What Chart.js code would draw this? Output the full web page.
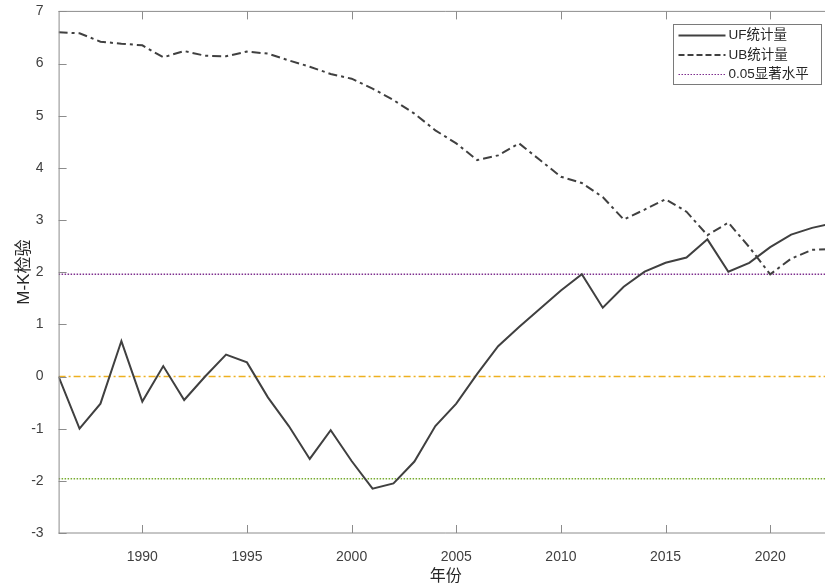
<!DOCTYPE html>
<html lang="zh">
<head>
  <meta charset="UTF-8">
  <title>M-K检验</title>
  <style>
    html, body { margin: 0; padding: 0; background: white; overflow: hidden; }
    #wrap { width: 845px; height: 585px; overflow: hidden; }
    #mk { margin-top: -4px; display: block; }
  </style>
</head>
<body>
  <div id="wrap"><canvas id="mk" width="845" height="589"></canvas></div>

  <script src="https://cdn.jsdelivr.net/npm/chart.js"></script>
  <script>
    // data
    const years = [1986, 1987, 1988, 1989, 1990, 1991, 1992, 1993, 1994, 1995, 1996, 1997, 1998,
      1999, 2000, 2001, 2002, 2003, 2004, 2005, 2006, 2007, 2008, 2009, 2010, 2011, 2012,
      2013, 2014, 2015, 2016, 2017, 2018, 2019, 2020, 2021, 2022, 2023];
    const ufValues = [0, -1.0, -0.52, 0.68, -0.48, 0.2, -0.45, 0.0, 0.42, 0.27, -0.4, -0.95, -1.58,
      -1.03, -1.62, -2.15, -2.05, -1.63, -0.95, -0.52, 0.05, 0.58, 0.95, 1.3, 1.65, 1.96, 1.32,
      1.72, 2.01, 2.18, 2.28, 2.63, 2.01, 2.18, 2.48, 2.72, 2.85, 2.94];
    const ubValues = [6.6, 6.58, 6.42, 6.38, 6.35, 6.12, 6.24, 6.15, 6.14, 6.23, 6.19, 6.06, 5.94,
      5.8, 5.71, 5.52, 5.3, 5.04, 4.72, 4.47, 4.15, 4.24, 4.47, 4.15, 3.83, 3.71, 3.44,
      3.01, 3.2, 3.4, 3.16, 2.71, 2.95, 2.48, 1.96, 2.26, 2.43, 2.44];
    const levelYears = [1986, 2023];
    const zeroLevel = [0, 0];
    const upperLevel = [1.96, 1.96];
    const lowerLevel = [-1.96, -1.96];
    const xTicks = [1990, 1995, 2000, 2005, 2010, 2015, 2020];
    const yTicks = [-3, -2, -1, 0, 1, 2, 3, 4, 5, 6, 7];

    const pts = (xs, ys) => xs.map((x, i) => ({ x: x, y: ys[i] }));
    const axisColor = '#8c8c8c';
    const lineColor = '#404040';

    // box + inward ticks like matlab
    const boxPlugin = {
      id: 'box',
      afterDatasetsDraw(chart) {
        const { ctx, chartArea: a, scales } = chart;
        ctx.save();
        ctx.strokeStyle = axisColor;
        ctx.lineWidth = 1;
        ctx.beginPath();
        ctx.moveTo(a.left, a.top); ctx.lineTo(a.right, a.top);
        ctx.moveTo(a.left + 0.5, a.top); ctx.lineTo(a.left + 0.5, a.bottom);
        ctx.moveTo(a.left, a.bottom); ctx.lineTo(a.right, a.bottom);
        ctx.moveTo(a.right - 0.5, a.top); ctx.lineTo(a.right - 0.5, a.bottom);
        xTicks.forEach(v => {
          const px = Math.round(scales.x.getPixelForValue(v)) + 0.5;
          ctx.moveTo(px, a.bottom); ctx.lineTo(px, a.bottom - 8);
          ctx.moveTo(px, a.top); ctx.lineTo(px, a.top + 8);
        });
        yTicks.forEach(v => {
          const py = Math.round(scales.y.getPixelForValue(v)) + 0.5;
          ctx.moveTo(a.left, py); ctx.lineTo(a.left + 8, py);
          ctx.moveTo(a.right, py); ctx.lineTo(a.right - 8, py);
        });
        ctx.stroke();
        ctx.restore();
      }
    };

    // legend box inside the plot, top right
    const legendPlugin = {
      id: 'innerLegend',
      afterDraw(chart) {
        const ctx = chart.ctx;
        const items = chart.data.datasets.filter(d => d.inLegend);
        const x0 = 673.5, y0 = 28.5, w = 148, h = 60;
        ctx.save();
        ctx.fillStyle = 'white';
        ctx.fillRect(x0, y0, w, h);
        ctx.strokeStyle = '#7a7a7a';
        ctx.lineWidth = 1;
        ctx.strokeRect(x0, y0, w, h);
        ctx.font = '13.5px "Liberation Sans", Arial, "Noto Sans CJK SC", sans-serif';
        ctx.textBaseline = 'middle';
        items.forEach((d, i) => {
          const y = y0 + 11 + i * 19.5;
          ctx.strokeStyle = d.borderColor;
          ctx.lineWidth = d.legendWidth || d.borderWidth;
          ctx.setLineDash(d.legendDash || d.borderDash || []);
          ctx.beginPath();
          ctx.moveTo(x0 + 5, y); ctx.lineTo(x0 + 52, y);
          ctx.stroke();
          ctx.setLineDash([]);
          ctx.fillStyle = '#262626';
          ctx.fillText(d.label, x0 + 55, y);
        });
        ctx.restore();
      }
    };

    new Chart(document.getElementById('mk'), {
      type: 'line',
      data: {
        datasets: [
          { label: 'UF统计量', data: pts(years, ufValues), borderColor: lineColor, borderWidth: 2,
            pointRadius: 0, inLegend: true, order: 1 },
          { label: 'UB统计量', data: pts(years, ubValues), borderColor: lineColor, borderWidth: 2,
            borderDash: [9, 4, 3, 4], legendDash: [6, 3], pointRadius: 0, inLegend: true, order: 2 },
          { label: '0.05显著水平', data: pts(levelYears, upperLevel), borderColor: '#7E2F8E', borderWidth: 1.5,
            borderDash: [1.5, 1.5], legendWidth: 1, pointRadius: 0, inLegend: true, order: 3 },
          { label: 'zero', data: pts(levelYears, zeroLevel), borderColor: '#EDB120', borderWidth: 1.5,
            borderDash: [7, 3, 2, 3], pointRadius: 0, order: 4 },
          { label: 'lower', data: pts(levelYears, lowerLevel), borderColor: '#77AC30', borderWidth: 1.5,
            borderDash: [1.5, 1.5], pointRadius: 0, order: 5 }
        ]
      },
      options: {
        responsive: false,
        animation: false,
        layout: { padding: { left: 0, top: 7, right: 12, bottom: 0 } },
        plugins: { legend: { display: false }, tooltip: { enabled: false } },
        scales: {
          x: {
            type: 'linear', min: 1986, max: 2023,
            grid: { display: false }, border: { display: false },
            afterBuildTicks: s => { s.ticks = xTicks.map(v => ({ value: v })); },
            afterFit: s => { s.height = 52; },
            ticks: { color: '#404040', padding: 8, maxRotation: 0, autoSkip: false,
              font: { size: 14, family: '"Liberation Sans", Arial, sans-serif' }, callback: v => String(v) },
            title: { display: true, text: '年份', color: '#262626', padding: { top: 0, bottom: 0 },
              font: { size: 16, family: '"Noto Sans CJK SC", sans-serif' } }
          },
          y: {
            min: -3, max: 7,
            grid: { display: false }, border: { display: false },
            afterBuildTicks: s => { s.ticks = yTicks.map(v => ({ value: v })); },
            afterFit: s => { s.width = 58.6; },
            ticks: { color: '#404040', padding: 7,
              font: { size: 14, family: '"Liberation Sans", Arial, sans-serif' } },
            title: { display: true, text: 'M-K检验', color: '#262626', padding: { top: 14, bottom: 0 },
              font: { size: 17, family: '"Liberation Sans", "Noto Sans CJK SC", sans-serif' } }
          }
        }
      },
      plugins: [boxPlugin, legendPlugin]
    });
  </script>
</body>
</html>
